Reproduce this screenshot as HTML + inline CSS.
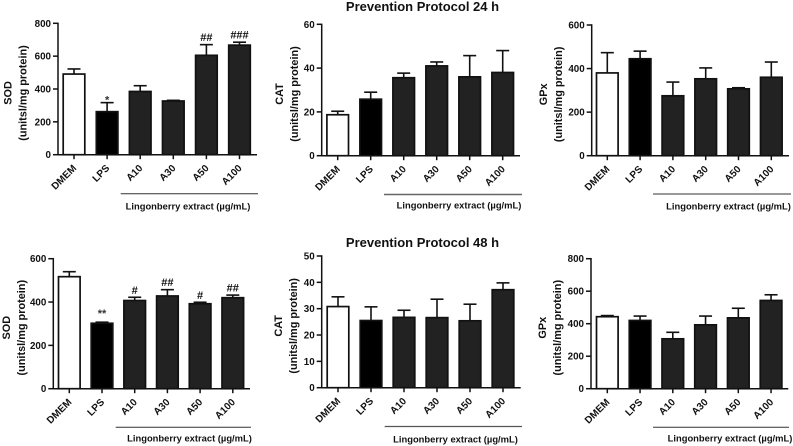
<!DOCTYPE html>
<html lang="en">
<head>
<meta charset="utf-8">
<title>Prevention Protocol</title>
<style>
html,body{margin:0;padding:0;background:#fff;width:793px;height:446px;overflow:hidden}
svg{display:block;font-family:"Liberation Sans",sans-serif;font-weight:bold;fill:#111}
</style>
</head>
<body>
<svg id="figure" xmlns="http://www.w3.org/2000/svg" width="793" height="446" viewBox="0 0 793 446">
<text x="422.5" y="11" text-anchor="middle" font-size="13">Prevention Protocol 24 h</text>
<text x="422.5" y="247" text-anchor="middle" font-size="13">Prevention Protocol 48 h</text>
</svg>
<script>
const categories = ['DMEM', 'LPS', 'A10', 'A30', 'A50', 'A100'];
const extractLabel = 'Lingonberry extract (\u00b5g/mL)';

const sod24Ticks = [0, 200, 400, 600, 800];
const sod24Values = [491, 262, 385, 327, 605, 667];
const sod24Upper = [522, 317, 420, 331, 670, 685];
const sod24Marks = ['', '*', '', '', '##', '###'];

const cat24Ticks = [0, 20, 40, 60];
const cat24Values = [18.7, 25.8, 35.6, 41, 36, 38];
const cat24Upper = [20.3, 29, 37.7, 42.8, 45.7, 48];

const gpx24Ticks = [0, 200, 400, 600];
const gpx24Values = [380, 445, 275, 353, 307, 360];
const gpx24Upper = [473, 480, 338, 403, 312, 430];

const sod48Ticks = [0, 200, 400, 600];
const sod48Values = [517, 302, 407, 428, 392, 420];
const sod48Upper = [540, 307, 422, 457, 399, 432];
const sod48Marks = ['', '**', '#', '##', '#', '##'];

const cat48Ticks = [0, 10, 20, 30, 40, 50];
const cat48Values = [30.8, 25.5, 26.7, 26.6, 25.4, 37.2];
const cat48Upper = [34.5, 30.7, 29.4, 33.6, 31.7, 39.8];

const gpx48Ticks = [0, 200, 400, 600, 800];
const gpx48Values = [443, 420, 307, 393, 436, 543];
const gpx48Upper = [450, 447, 347, 447, 495, 578];

const noMarks = ['', '', '', '', '', ''];
const NS = 'http://www.w3.org/2000/svg';
const svg = document.getElementById('figure');

function make(tag, attrs, parent) {
  const el = document.createElementNS(NS, tag);
  for (const k in attrs) el.setAttribute(k, attrs[k]);
  parent.appendChild(el);
  return el;
}

function drawPanel(p) {
  const group = make('g', {}, svg);
  
  

  const yMax = p.ticks[p.ticks.length - 1];
  const yScale = v => p.y0 - (v / yMax) * (p.y0 - p.yTop);
  const xScale = i => p.x0 + i * p.step;

  p.values.forEach((v, i) => {
    const cx = xScale(i);
    const top = yScale(v);
    const up = yScale(p.upper[i]);

    const errV = make('line', { x1: cx, x2: cx, y1: top, y2: up, stroke: '#111', 'stroke-width': 1.6 }, group);
    
    

    const errC = make('line', { x1: cx - 6.5, x2: cx + 6.5, y1: up, y2: up, stroke: '#111', 'stroke-width': 1.6 }, group);
    
    

    const fill = i === 0 ? '#fff' : (i === 1 ? '#000' : '#222');
    const bar = make('rect', { x: cx - 10.8, y: top, width: 21.6, height: p.y0 - top, fill: fill, stroke: '#111', 'stroke-width': 1.7 }, group);
    
    

    const tick = make('line', { x1: cx, x2: cx, y1: p.y0, y2: p.y0 + 4.5, stroke: '#111', 'stroke-width': 1.5 }, group);
    
    

    const lx = cx + 3;
    const ly = p.y0 + 14;
    const label = make('text', { x: lx, y: ly, 'text-anchor': 'end', 'font-size': 10, transform: 'rotate(-45 ' + lx + ' ' + ly + ')' }, group);
    label.textContent = categories[i];
    
    

    if (p.marks[i]) {
      const isStar = p.marks[i].indexOf('*') === 0;
      const mark = make('text', { x: cx, y: up - (isStar ? p.starGap : 3.5), 'text-anchor': 'middle', 'font-size': 11, fill: isStar ? '#333' : '#111' }, group);
      mark.textContent = p.marks[i];
      
      
    }
  });

  p.ticks.forEach(t => {
    const y = yScale(t);
    const tick = make('line', { x1: p.axisX - 5, x2: p.axisX, y1: y, y2: y, stroke: '#111', 'stroke-width': 1.5 }, group);
    
    

    const label = make('text', { x: p.axisX - 7, y: y + 3.5, 'text-anchor': 'end', 'font-size': 9.8 }, group);
    label.textContent = String(t);
    
    
  });

  const yAxis = make('line', { x1: p.axisX, x2: p.axisX, y1: p.yTop - 0.7, y2: p.y0 + 0.7, stroke: '#111', 'stroke-width': 1.5 }, group);
  
  

  const xAxis = make('line', { x1: p.axisX, x2: p.axisEnd, y1: p.y0, y2: p.y0, stroke: '#111', 'stroke-width': 1.5 }, group);
  
  

  const yc = (p.y0 + p.yTop) / 2 + 4;
  const t1 = make('text', { x: p.titleX, y: yc, 'text-anchor': 'middle', 'font-size': 10.9, transform: 'rotate(-90 ' + p.titleX + ' ' + yc + ')' }, group);
  t1.textContent = p.name;
  
  

  const tx2 = p.titleX + 15;
  const t2 = make('text', { x: tx2, y: yc, 'text-anchor': 'middle', 'font-size': 10.9, transform: 'rotate(-90 ' + tx2 + ' ' + yc + ')' }, group);
  t2.textContent = '(unitsl/mg protein)';
  
  

  const rule = make('line', { x1: p.ruleX1, x2: p.ruleX2, y1: p.ruleY, y2: p.ruleY, stroke: p.ruleColor, 'stroke-width': p.ruleW }, group);
  
  

  const note = make('text', { x: p.noteX, y: p.noteY, 'text-anchor': 'middle', 'font-size': 9.4 }, group);
  note.textContent = extractLabel;
  
  
}

drawPanel({ id: 'sod-24h', name: 'SOD', ticks: sod24Ticks, values: sod24Values, upper: sod24Upper, marks: sod24Marks, starGap: -1,
  axisX: 58, axisEnd: 257, yTop: 23.3, y0: 154.7, x0: 74, step: 33.1, titleX: 11.5, ruleX1: 120.7, ruleX2: 258, ruleY: 193.7, ruleColor: '#333', ruleW: 1, noteX: 188, noteY: 209.5 });
drawPanel({ id: 'cat-24h', name: 'CAT', ticks: cat24Ticks, values: cat24Values, upper: cat24Upper, marks: noMarks,
  axisX: 321.7, axisEnd: 520, yTop: 24.3, y0: 155.7, x0: 337.7, step: 33, titleX: 283, ruleX1: 384, ruleX2: 522, ruleY: 194.5, ruleColor: '#666', ruleW: 1.5, noteX: 459, noteY: 208.7 });
drawPanel({ id: 'gpx-24h', name: 'GPx', ticks: gpx24Ticks, values: gpx24Values, upper: gpx24Upper, marks: noMarks,
  axisX: 591.7, axisEnd: 789, yTop: 25, y0: 155.7, x0: 607.3, step: 32.8, titleX: 547, ruleX1: 653, ruleX2: 791, ruleY: 194, ruleColor: '#333', ruleW: 1, noteX: 728.5, noteY: 209.3 });
drawPanel({ id: 'sod-48h', name: 'SOD', ticks: sod48Ticks, values: sod48Values, upper: sod48Upper, marks: sod48Marks, starGap: 5,
  axisX: 53.3, axisEnd: 250, yTop: 258.7, y0: 388.7, x0: 69.3, step: 32.7, titleX: 10, ruleX1: 115.7, ruleX2: 251, ruleY: 427.3, ruleColor: '#333', ruleW: 1, noteX: 189.5, noteY: 441.7 });
drawPanel({ id: 'cat-48h', name: 'CAT', ticks: cat48Ticks, values: cat48Values, upper: cat48Upper, marks: noMarks,
  axisX: 321.7, axisEnd: 520.7, yTop: 256, y0: 387.7, x0: 338, step: 33, titleX: 282, ruleX1: 384.7, ruleX2: 522, ruleY: 426.5, ruleColor: '#555', ruleW: 1.3, noteX: 455.5, noteY: 442.7 });
drawPanel({ id: 'gpx-48h', name: 'GPx', ticks: gpx48Ticks, values: gpx48Values, upper: gpx48Upper, marks: noMarks,
  axisX: 591, axisEnd: 788.3, yTop: 258.7, y0: 388.7, x0: 607.3, step: 32.75, titleX: 546, ruleX1: 653, ruleX2: 789, ruleY: 427.3, ruleColor: '#333', ruleW: 1, noteX: 730, noteY: 441.7 });
</script>
</body>
</html>
